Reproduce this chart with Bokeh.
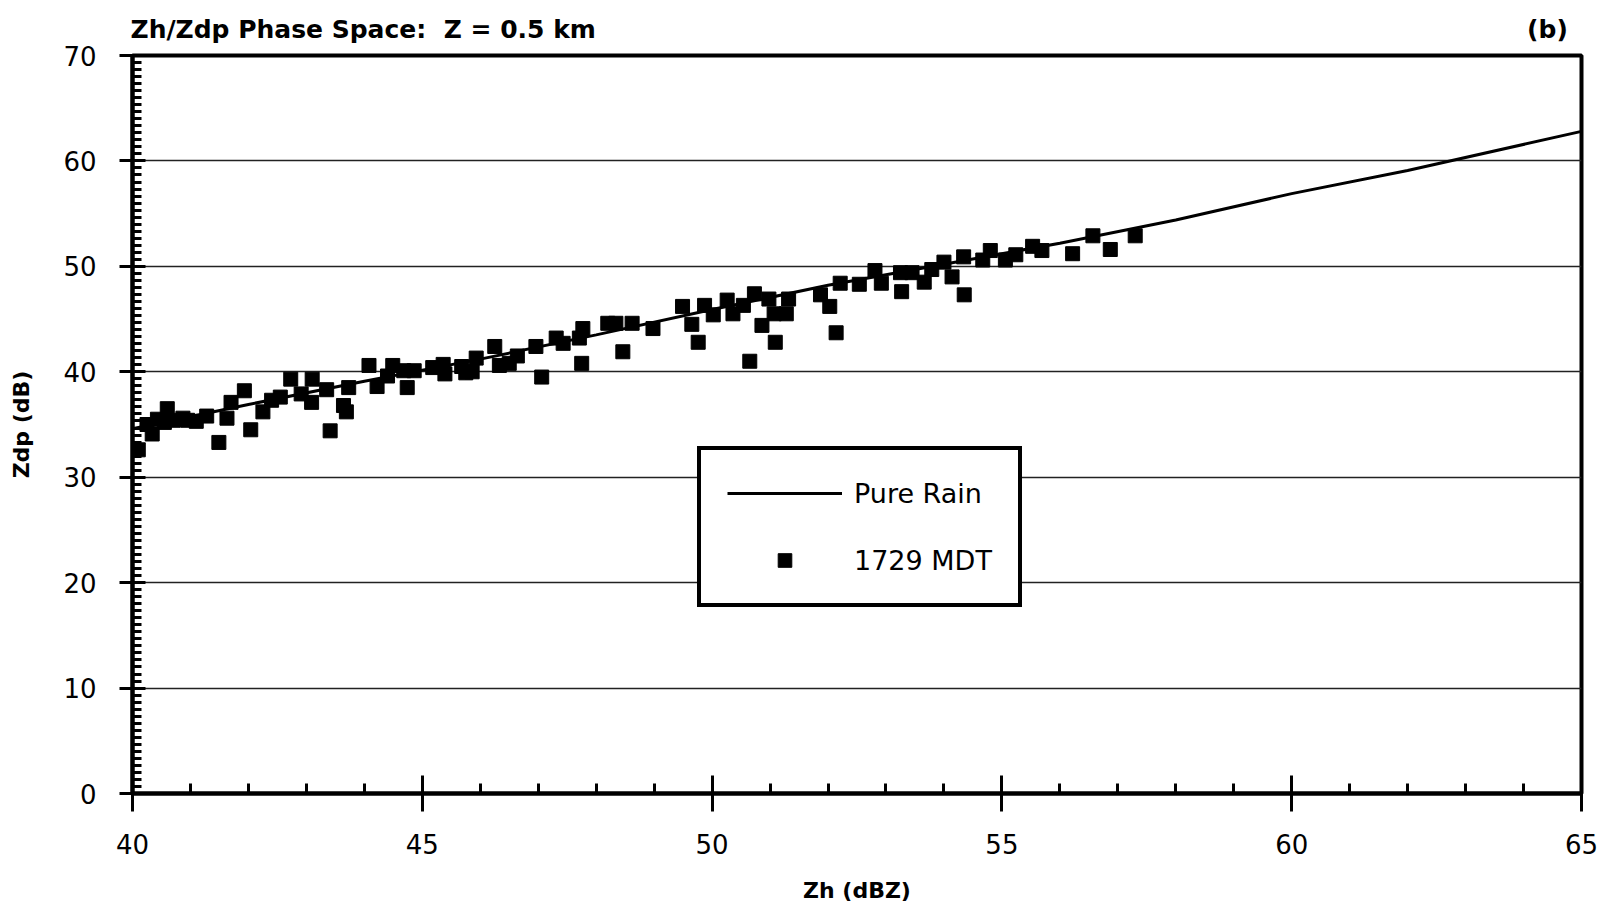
from bokeh.plotting import figure
from bokeh.models import (Range1d, SingleIntervalTicker, Legend, LegendItem)
from bokeh.embed import file_html
from bokeh.resources import INLINE

# ---------------- data ----------------
main_title = "Zh/Zdp Phase Space:\u00a0 Z = 0.5 km"
panel_text = "(b)"
x_label = "Zh (dBZ)"
y_label = "Zdp (dB)"
line_label = "Pure Rain"
scatter_label = "1729 MDT"

pure_zh = [40, 42, 44, 46, 48, 50, 52, 54, 56, 58, 60, 62, 65]
pure_zdp = [34.6, 36.9, 39.1, 41.2, 43.5, 45.9, 48.2, 50.2, 52.2, 54.4, 56.9, 59.1, 62.8]

obs_zh = [40.10, 40.25, 40.34, 40.43, 40.55, 40.60, 40.70, 40.87, 40.95, 41.10,
          41.28, 41.49, 41.63, 41.70, 41.93, 42.04, 42.25, 42.40, 42.55, 42.73,
          42.91, 43.10, 43.09, 43.41, 43.35, 43.64, 43.69, 43.73, 44.08, 44.22,
          44.49, 44.40, 44.68, 44.74, 44.86, 45.18, 45.39, 45.36, 45.68, 45.75,
          45.93, 45.86, 46.25, 46.33, 46.64, 46.50, 46.96, 47.06, 47.31, 47.43,
          47.77, 47.75, 47.71, 48.20, 48.46, 48.34, 48.62, 48.98, 49.49, 49.65,
          49.76, 49.87, 50.02, 50.26, 50.65, 50.36, 50.54, 50.73, 50.86, 50.98,
          51.07, 51.09, 51.28, 51.32, 51.87, 52.03, 52.14, 52.21, 52.54, 52.81,
          52.92, 53.27, 53.25, 53.45, 53.66, 53.79, 54.00, 54.14, 54.35, 54.34,
          54.67, 54.80, 55.06, 55.24, 55.53, 55.69, 56.22, 56.57, 56.87, 57.30]
obs_zdp = [32.6, 35.0, 34.1, 35.5, 35.2, 36.5, 35.4, 35.6, 35.4, 35.3,
           35.8, 33.3, 35.6, 37.1, 38.2, 34.5, 36.2, 37.3, 37.6, 39.3,
           37.9, 39.3, 37.1, 34.4, 38.3, 36.8, 36.2, 38.5, 40.6, 38.6,
           40.6, 39.6, 40.1, 38.5, 40.1, 40.4, 39.8, 40.7, 40.5, 39.9,
           41.3, 40.0, 42.4, 40.6, 41.5, 40.8, 42.4, 39.5, 43.2, 42.7,
           44.1, 40.8, 43.2, 44.6, 41.9, 44.6, 44.6, 44.1, 46.2, 44.5,
           42.8, 46.3, 45.4, 46.8, 41.0, 45.5, 46.3, 47.4, 44.4, 46.9,
           45.5, 42.8, 45.5, 46.9, 47.3, 46.2, 43.7, 48.4, 48.3, 49.6,
           48.4, 47.6, 49.4, 49.4, 48.5, 49.7, 50.4, 49.0, 47.3, 50.9,
           50.6, 51.5, 50.6, 51.1, 51.9, 51.5, 51.2, 52.9, 51.6, 52.9]

FONT = "DejaVu Sans"

p = figure(width=1613, height=909, output_backend="svg", toolbar_location=None,
           x_range=Range1d(40, 65), y_range=Range1d(0, 70),
           min_border_left=132, min_border_right=32,
           min_border_top=55, min_border_bottom=116)
p.background_fill_color = "white"
p.border_fill_color = "white"
p.outline_line_color = "black"
p.outline_line_width = 4

# title row: main title at the left, panel tag "(b)" at the right end
p.title.text = main_title + "\u00a0" * 107 + panel_text
p.title.align = "left"
p.title.text_font = FONT
p.title.text_font_style = "bold"
p.title.text_font_size = "25px"
p.title.text_color = "black"
p.title.offset = -2
p.title.standoff = 24

# axes
p.xaxis.ticker = SingleIntervalTicker(interval=5, num_minor_ticks=5)
p.yaxis.ticker = SingleIntervalTicker(interval=10, num_minor_ticks=15)
for ax in (p.xaxis[0], p.yaxis[0]):
    ax.axis_line_width = 4
    ax.axis_line_color = "black"
    ax.major_tick_line_width = 3
    ax.minor_tick_line_width = 3
    ax.major_tick_line_color = "black"
    ax.minor_tick_line_color = "black"
    ax.major_label_text_font = FONT
    ax.major_label_text_font_size = "26px"
    ax.major_label_text_color = "black"
    ax.axis_label_text_font = FONT
    ax.axis_label_text_font_style = "bold"
    ax.axis_label_text_color = "black"
    ax.axis_label_text_font_size = "22px"
p.xaxis.major_tick_in = 18
p.xaxis.major_tick_out = 18
p.xaxis.minor_tick_in = 10
p.xaxis.minor_tick_out = 0
p.yaxis.major_tick_in = 13
p.yaxis.major_tick_out = 13
p.yaxis.minor_tick_in = 9
p.yaxis.minor_tick_out = 0
p.xaxis.major_label_standoff = 22
p.yaxis.major_label_standoff = 23
p.xaxis.axis_label = x_label
p.yaxis.axis_label = y_label
p.xaxis.axis_label_standoff = 21
p.yaxis.axis_label_standoff = 26

# grid
p.xgrid.visible = False
p.ygrid.ticker = SingleIntervalTicker(interval=10)
p.ygrid.grid_line_color = "#222222"
p.ygrid.grid_line_width = 1.3

# data
line_r = p.line(pure_zh, pure_zdp, line_color="black", line_width=3)
sc_r = p.scatter(obs_zh, obs_zdp, marker="square", size=14,
                 fill_color="black", line_color="black")

legend = Legend(items=[LegendItem(label=line_label, renderers=[line_r]),
                       LegendItem(label=scatter_label, renderers=[sc_r])],
                location=(565, 186))
legend.border_line_color = "black"
legend.border_line_alpha = 1.0
legend.border_line_width = 4
legend.background_fill_color = "white"
legend.background_fill_alpha = 1
legend.label_text_font = FONT
legend.label_text_font_size = "27px"
legend.label_text_color = "black"
legend.glyph_width = 115
legend.glyph_height = 34
legend.label_height = 34
legend.label_standoff = 12
legend.spacing = 33
legend.padding = 26
legend.margin = 0
p.add_layout(legend)

open("out.html", "w").write(file_html(p, INLINE))
